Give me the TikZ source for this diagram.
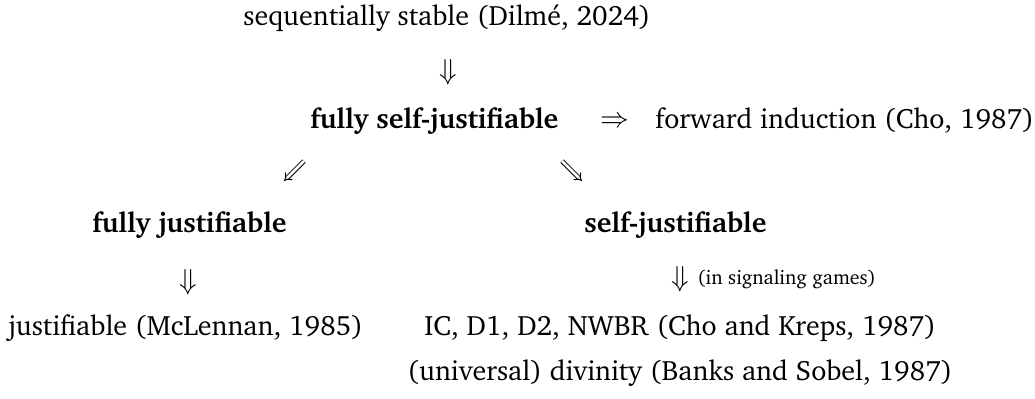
\documentclass[tikz,border=0pt]{standalone}
\usepackage[T1]{fontenc}
\usepackage{charter}
\usetikzlibrary{arrows.meta}
\tikzset{
  txt/.style={inner sep=0pt, anchor=base west, font=\fontsize{14}{16}\selectfont},
  bld/.style={txt, font=\fontsize{14}{16}\selectfont\bfseries},
  note/.style={inner sep=0pt, anchor=base west, font=\fontsize{10}{12}\selectfont},
  sym/.style={inner sep=0pt, anchor=center, font=\fontsize{14}{16}\selectfont},
  diag/.style={double, double distance=1.4pt, line width=0.45pt, -{Implies}}
}
\begin{document}
\begin{tikzpicture}[x=0.5pt, y=-0.5pt]
\useasboundingbox (0,0) rectangle (1035,398);
\node[txt] (r1) at (243,25) {sequentially stable (Dilm\'e, 2024)};
\node[sym] (a1) at (448,72) {$\Downarrow$};
\node[bld] (fsj) at (310,128) {fully self-justifiable};
\node[sym] (a2) at (615,122) {$\Rightarrow$};
\node[txt] (fi) at (655,128) {forward induction (Cho, 1987)};
\coordinate (d1s) at (304,161);
\coordinate (d1e) at (284,181);
\coordinate (d2s) at (562,161);
\coordinate (d2e) at (582,181);
\draw[diag] (d1s) -- (d1e);
\draw[diag] (d2s) -- (d2e);
\node[bld] (fj) at (92,232) {fully justifiable};
\node[bld] (sj) at (584,232) {self-justifiable};
\node[sym] (a3) at (188,282) {$\Downarrow$};
\node[sym] (a4) at (680,279) {$\Downarrow$};
\node[note] (sig) at (697,284) {(in signaling games)};
\node[txt] (j) at (8,335) {justifiable (McLennan, 1985)};
\node[txt] (ic) at (424,335) {IC, D1, D2, NWBR (Cho and Kreps, 1987)};
\node[txt] (ud) at (407,380) {(universal) divinity (Banks and Sobel, 1987)};
\end{tikzpicture}
\end{document}
